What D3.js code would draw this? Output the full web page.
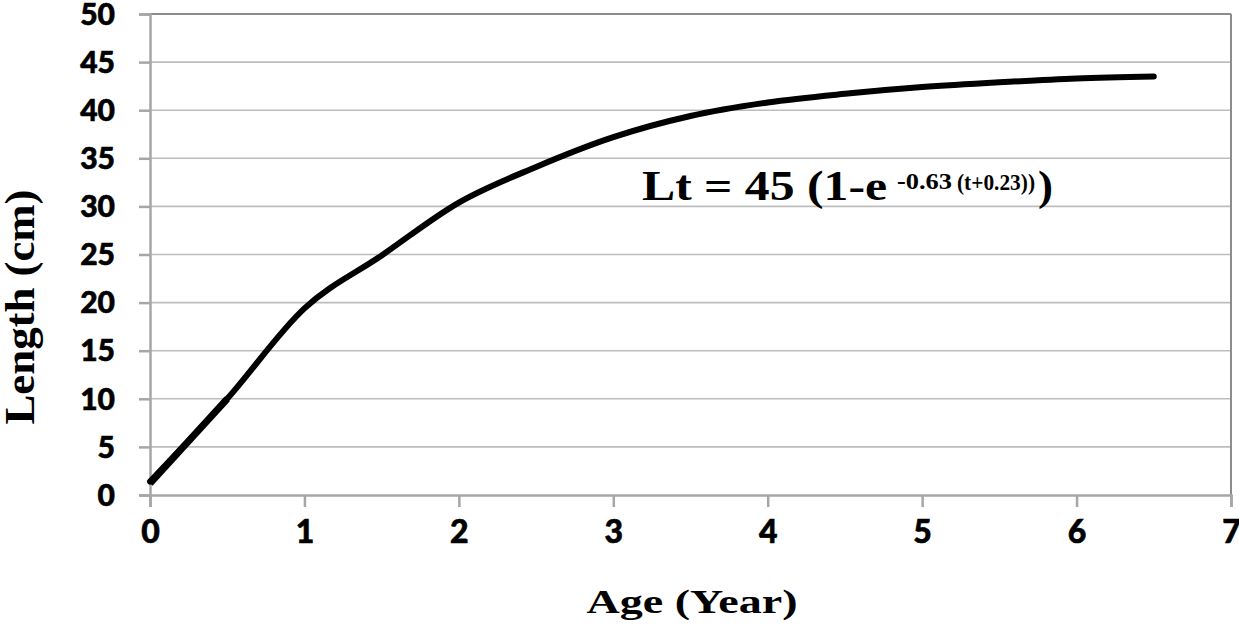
<!DOCTYPE html>
<html><head><meta charset="utf-8">
<script src="https://cdn.jsdelivr.net/npm/d3@7"></script>
<style>body{margin:0;background:#fff}svg{display:block}</style>
</head><body>
<svg id="c" width="1239" height="632"></svg>
<script>
const ages = [0, 0.5, 1, 1.5, 2, 2.5, 3, 3.5, 4, 4.5, 5, 5.5, 6, 6.5];
const lengths = [1.4, 10.0, 19.4, 24.9, 30.4, 34.1, 37.2, 39.4, 40.8, 41.7, 42.4, 42.9, 43.3, 43.5];
const earlyAges = [0, 0.5];
const earlyLengths = [1.2, 10.0];
const xTicks = [0, 1, 2, 3, 4, 5, 6, 7];
const yTicks = [0, 5, 10, 15, 20, 25, 30, 35, 40, 45, 50];

const svg = d3.select("#c");
const x = d3.scaleLinear().domain([0, 7]).range([150, 1231]);
const y = d3.scaleLinear().domain([0, 50]).range([495, 14]);

// gridlines
svg.append("g").selectAll("line").data(yTicks.filter(d => d > 0)).join("line")
  .attr("x1", x(0)).attr("x2", x(7)).attr("y1", d => y(d)).attr("y2", d => y(d))
  .attr("stroke", d => d === 50 ? "#8c8c8c" : "#bdbdbd").attr("stroke-width", d => d === 50 ? 2 : 1.6);
// right border
svg.append("line").attr("x1", x(7)).attr("x2", x(7)).attr("y1", y(50)).attr("y2", y(0))
  .attr("stroke", "#8c8c8c").attr("stroke-width", 2);

// axes
const sans = "Lato, 'Open Sans', sans-serif";
const xAxis = svg.append("g").attr("transform", `translate(0,${y(0)})`)
  .call(d3.axisBottom(x).tickValues(xTicks).tickSize(12).tickPadding(13).tickFormat(d3.format("d")));
const yAxis = svg.append("g").attr("transform", `translate(${x(0)},0)`)
  .call(d3.axisLeft(y).tickValues(yTicks).tickSize(11).tickPadding(24).tickFormat(d3.format("d")));
[xAxis, yAxis].forEach(a => {
  a.select(".domain").attr("stroke", "#a6a6a6").attr("stroke-width", 2.5);
  a.selectAll(".tick line").attr("stroke", "#a6a6a6").attr("stroke-width", 2.5);
  a.selectAll("text").attr("fill", "#000").attr("stroke", "#000").attr("stroke-width", 0.6)
    .style("font-family", sans).style("font-weight", "900");
});
yAxis.selectAll("text").style("font-size", "30px").attr("dy", "0.34em");
xAxis.selectAll("text").style("font-size", "32px");

// curve
const line = d3.line().x(d => x(d[0])).y(d => y(d[1])).curve(d3.curveMonotoneX);
svg.append("path").datum(ages.map((a, i) => [a, lengths[i]]))
  .attr("d", line).attr("fill", "none").attr("stroke", "#000").attr("stroke-width", 6)
  .attr("stroke-linecap", "round").attr("stroke-linejoin", "round");
svg.append("path").datum(earlyAges.map((a, i) => [a, earlyLengths[i]]))
  .attr("d", d3.line().x(d => x(d[0])).y(d => y(d[1]))).attr("fill", "none")
  .attr("stroke", "#000").attr("stroke-width", 7);

// axis titles
const serif = "'Times New Roman', Tinos, 'Liberation Serif', Times, serif";
svg.append("text").attr("x", 692).attr("y", 613).attr("text-anchor", "middle")
  .attr("textLength", 211).attr("lengthAdjust", "spacingAndGlyphs")
  .style("font-family", serif).style("font-weight", "bold").style("font-size", "33px").text("Age (Year)");
svg.append("text").attr("transform", "translate(34,307) rotate(-90)").attr("text-anchor", "middle")
  .attr("textLength", 235).attr("lengthAdjust", "spacingAndGlyphs")
  .style("font-family", serif).style("font-weight", "bold").style("font-size", "42px").text("Length (cm)");

// equation
const eq = svg.append("g").style("font-family", serif).style("font-weight", "bold").attr("fill", "#000");
eq.append("text").attr("x", 642).attr("y", 200).attr("textLength", 245).attr("lengthAdjust", "spacingAndGlyphs")
  .style("font-size", "42px").text("Lt = 45 (1-e");
eq.append("text").attr("x", 897).attr("y", 189).attr("textLength", 55).attr("lengthAdjust", "spacingAndGlyphs")
  .style("font-size", "24px").text("-0.63");
eq.append("text").attr("x", 957).attr("y", 190).attr("textLength", 78).attr("lengthAdjust", "spacingAndGlyphs")
  .style("font-size", "23px").text("(t+0.23))");
eq.append("text").attr("x", 1038).attr("y", 200).attr("textLength", 15).attr("lengthAdjust", "spacingAndGlyphs")
  .style("font-size", "42px").text(")");
</script>
</body></html>
